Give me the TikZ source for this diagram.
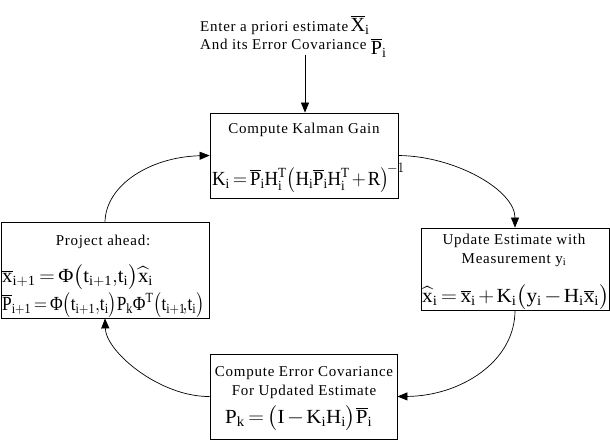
\documentclass[tikz,border=0pt]{standalone}
\usepackage{amsmath}
\usepackage{graphicx}
\usepackage{fontspec}
\setmainfont{Liberation Serif}
\usetikzlibrary{arrows.meta}
\newcommand\PHI{\text{Φ}}
\newcommand\ob[1]{\mathord{\vbox{\hrule height 0.9pt\kern1.3pt\hbox{$\mathrm{#1}$}}}}
\newcommand\Pb{\ob{P}}
\newcommand\xb{\ob{x}}
\newcommand\xh{\widehat{\mathrm{x}}}
\newcommand\rmi{\mathrm{i}}
\newcommand\cm{\mathord{,}}
\newcommand\eqfont{\fontsize{20}{24}\selectfont\thickmuskip=3mu\medmuskip=2mu}
\begin{document}
\begin{tikzpicture}[x=1pt,y=-1pt,
  box/.style={draw,line width=0.8pt,inner sep=0pt},
  ttl/.style={font=\fontsize{15}{19}\selectfont\addfontfeatures{LetterSpace=5},inner sep=0pt,align=center},
  eqn/.style={font=\eqfont,inner sep=0pt},
  conn/.style={line width=0.7pt,-{Triangle[length=10pt,width=8pt]}}]
\useasboundingbox (0,0) rectangle (610,442);
% boxes
\node[box,minimum width=188pt,minimum height=85pt] (topbox) at (304,155.5) {};
\node[box,minimum width=208pt,minimum height=96pt] (leftbox) at (105,270) {};
\node[box,minimum width=188pt,minimum height=82pt] (rightbox) at (515,269) {};
\node[box,minimum width=187pt,minimum height=85pt] (botbox) at (303.5,396.5) {};
% top text
\node[ttl,anchor=base west,align=left] (intro) at (200,49) {Enter a priori estimate\,{\fontsize{20}{20}\selectfont$\ob{X}_\rmi$}\\[-1pt]And its Error Covariance\ \raisebox{-5pt}{\fontsize{20}{20}\selectfont$\Pb_\rmi$}};
\coordinate (src) at (305,55);
\draw[conn] (src) -- (src |- topbox.north);
% top box
\node[ttl,anchor=base] (t1) at (304,133) {Compute Kalman Gain};
\node[eqn,anchor=base west] (e1) at (212,185) {\scalebox{0.935}[1]{$\mathrm{K_i} = \Pb_\rmi\mathrm{H_i^T}\bigl(\mathrm{H_i}\Pb_\rmi\mathrm{H_i^T} + \mathrm{R}\bigr)^{\!-1}$}};
% left box
\node[ttl,anchor=base] (l1) at (103,245) {Project ahead:};
\node[eqn,anchor=base west] (e2) at (2,282) {\scalebox{1.035}[1]{$\xb_{\mathrm{i+1}} = \PHI\bigl(\mathrm{t_{i+1}}\cm\mathrm{t_i}\bigr)\xh_\rmi$}};
\node[eqn,anchor=base west] (e3) at (2,310) {\scalebox{0.865}[1]{$\Pb_{\mathrm{i+1}} = \PHI\bigl(\mathrm{t_{i+1}}\cm\mathrm{t_i}\bigr)\mathrm{P_k}\PHI^{\mathrm{T}}\bigl(\mathrm{t_{i+1}}\!\cm\mathrm{t_i}\bigr)$}};
% right box
\node[ttl,anchor=base] (r1) at (514,263) {Update Estimate with\\Measurement $\mathrm{y_i}$};
\node[eqn,anchor=base west] (e4) at (422,302) {\scalebox{1.06}[1]{$\xh_\rmi = \xb_\rmi + \mathrm{K_i}\bigl(\mathrm{y_i} - \mathrm{H_i}\xb_\rmi\bigr)$}};
% bottom box
\node[ttl,anchor=base] (b1) at (304,395) {Compute Error Covariance\\For Updated Estimate};
\node[eqn,anchor=base west] (e5) at (225,423) {\scalebox{1.05}[1]{$\mathrm{P_k} = \bigl(\mathrm{I} - \mathrm{K_i H_i}\bigr)\Pb_\rmi$}};
% connectors
\draw[conn] (leftbox.north) .. controls (106,185) and (150,157) .. (topbox.west);
\draw[conn] (topbox.east) .. controls (455,156) and (515,190) .. (rightbox.north);
\draw[conn] (rightbox.south) .. controls (515,362) and (460,396) .. (botbox.east);
\draw[conn] (botbox.west) .. controls (160,397) and (106,352) .. (leftbox.south);
\end{tikzpicture}
\end{document}
